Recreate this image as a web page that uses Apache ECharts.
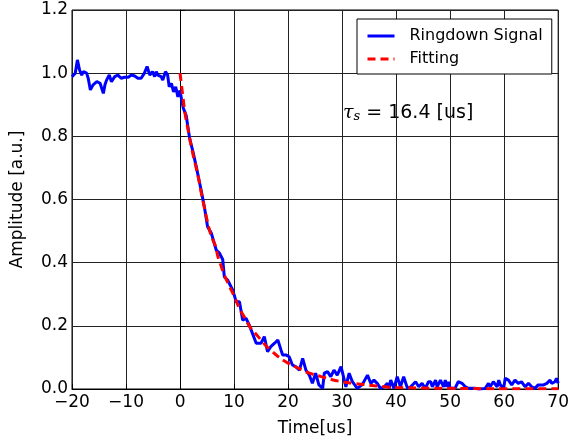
<!DOCTYPE html>
<html>
<head>
<meta charset="utf-8">
<script src="https://cdn.jsdelivr.net/npm/echarts@6/dist/echarts.min.js"></script>
<style>
  html, body { margin: 0; padding: 0; background: #fff; }
  #chart { width: 572px; height: 442px; }
</style>
</head>
<body>
<div id="chart"></div>
<script>
// measured ringdown signal [us] / [a.u.]
const signalTime = [
  -20.0, -19.4, -19.0, -18.6, -18.2, -17.9, -17.3, -17.0, -16.6, -16.1,
  -15.4, -14.8, -14.2, -13.9, -13.6, -13.1, -12.7, -12.1, -11.8, -11.5,
  -10.9, -10.3, -9.6, -9.0, -8.4, -7.8, -7.2, -6.6, -6.1, -5.6,
  -5.1, -4.7, -4.4, -4.1, -3.8, -3.5, -3.2, -2.7, -2.3, -2.0,
  -1.6, -1.2, -0.8, -0.4, 0.0, 0.3, 0.6, 1.15, 1.77, 2.4,
  3.0, 3.9, 4.5, 5.1, 5.8, 6.1, 6.7, 7.3, 7.6, 7.9,
  8.2, 8.8, 9.15, 9.76, 10.4, 11.0, 11.6, 12.2, 12.8, 14.1,
  15.0, 15.6, 16.2, 16.8, 17.5, 18.1, 18.7, 19.0, 19.6, 20.2,
  20.8, 21.4, 22.1, 22.7, 23.3, 23.9, 24.5, 25.1, 25.7, 26.4,
  26.7, 27.3, 27.9, 28.5, 29.1, 29.8, 30.1, 30.7, 31.3, 31.9,
  32.8, 33.7, 34.7, 35.3, 35.9, 36.5, 37.1, 37.8, 38.4, 38.7,
  39.0, 39.6, 40.2, 40.8, 41.4, 42.1, 42.7, 43.6, 44.2, 44.8,
  45.4, 46.0, 46.4, 46.7, 47.3, 47.6, 48.2, 48.8, 49.1, 49.4,
  49.7, 50.0, 50.9, 51.5, 52.2, 52.8, 53.4, 54.7, 55.3, 56.5,
  57.1, 57.4, 58.0, 58.7, 59.0, 59.3, 59.9, 60.2, 60.8, 61.4,
  62.0, 62.6, 63.2, 63.9, 64.5, 65.1, 65.7, 66.3, 67.3, 67.9,
  68.5, 68.8, 69.4, 69.7, 70.0
]
const signalAmp = [
  0.989, 1.0, 1.042, 1.01, 0.994, 1.005, 1.0, 0.984, 0.947, 0.963,
  0.973, 0.968, 0.936, 0.963, 0.978, 0.994, 0.973, 0.989, 0.984, 0.994,
  0.984, 0.987, 0.987, 0.994, 0.991, 0.984, 0.984, 1.0, 1.021, 0.994,
  1.005, 0.989, 1.005, 0.994, 1.0, 0.989, 0.978, 1.005, 0.994, 0.957,
  0.968, 0.941, 0.957, 0.925, 0.945, 0.915, 0.89, 0.865, 0.794, 0.751,
  0.704, 0.63, 0.577, 0.514, 0.493, 0.498, 0.44, 0.43, 0.435, 0.41,
  0.355, 0.345, 0.34, 0.313, 0.276, 0.276, 0.218, 0.224, 0.203, 0.145,
  0.145, 0.166, 0.118, 0.134, 0.145, 0.155, 0.123, 0.108, 0.108, 0.102,
  0.076, 0.071, 0.06, 0.097, 0.06, 0.045, 0.018, 0.05, 0.013, 0.002,
  0.05, 0.055, 0.039, 0.06, 0.044, 0.071, 0.05, 0.007, 0.05, 0.023,
  0.002, 0.013, 0.044, 0.018, 0.028, 0.018, 0.002, 0.007, 0.018, 0.002,
  0.028, 0.002, 0.039, 0.007, 0.039, 0.002, 0.007, 0.023, 0.007, 0.018,
  0.002, 0.023, 0.023, 0.007, 0.028, 0.007, 0.028, 0.007, 0.028, 0.007,
  0.023, 0.002, 0.002, 0.023, 0.018, 0.007, 0.002, 0.002, -0.001, 0.002,
  0.018, 0.007, 0.023, 0.007, 0.028, 0.013, 0.002, 0.034, 0.028, 0.013,
  0.028, 0.018, 0.023, 0.007, 0.018, 0.007, 0.002, 0.013, 0.013, 0.018,
  0.028, 0.018, 0.023, 0.034, 0.018
]

// fitted decay curve
const fitTime = [
  0, 0.5, 1, 1.5, 2, 2.5, 3, 3.5, 4, 4.5,
  5, 5.5, 6, 6.5, 7, 7.5, 8, 9, 10, 11,
  12, 13, 14, 15, 16, 17, 18, 19, 20, 22,
  24, 26, 28, 30, 32, 34, 36, 38, 40, 45,
  50, 60, 70
]
const fitAmp = [
  1.0, 0.93, 0.865, 0.82, 0.775, 0.735, 0.70, 0.66, 0.615, 0.575,
  0.535, 0.50, 0.475, 0.455, 0.42, 0.395, 0.37, 0.33, 0.295, 0.255,
  0.225, 0.195, 0.175, 0.155, 0.135, 0.12, 0.105, 0.092, 0.082, 0.065,
  0.05, 0.04, 0.03, 0.023, 0.018, 0.014, 0.01, 0.007, 0.005, 0.003,
  0.002, 0.001, 0.001
]

const xTicks = [-20, -10, 0, 10, 20, 30, 40, 50, 60, 70]
const yTicks = [0.0, 0.2, 0.4, 0.6, 0.8, 1.0, 1.2]
const tauText = '16.4 [us]'

const FONT = 'DejaVu Sans'

const chart = echarts.init(document.getElementById('chart'), null, {renderer: 'canvas'})

const option = {
  animation: false,
  backgroundColor: '#fff',
  textStyle: {fontFamily: FONT, color: '#000'},
  grid: {
    left: 72, right: 12, top: 10, bottom: 53,
    show: true, borderColor: '#000', borderWidth: 1, backgroundColor: 'transparent'
  },
  legend: {
    orient: 'vertical',
    left: 357, top: 19,
    data: ['Ringdown Signal', 'Fitting'],
    backgroundColor: '#fff',
    borderColor: '#000',
    borderWidth: 1,
    borderRadius: 0,
    padding: [9, 9, 7, 9],
    itemGap: 7,
    itemWidth: 27,
    itemHeight: 16,
    itemStyle: {opacity: 0},
    lineStyle: {width: 3},
    textStyle: {fontFamily: FONT, fontSize: 16, color: '#000', padding: [0, 0, 0, 10]}
  },
  xAxis: {
    type: 'value',
    min: xTicks[0], max: xTicks[xTicks.length - 1], interval: 10,
    name: 'Time[us]', nameLocation: 'middle', nameGap: 31,
    nameTextStyle: {fontFamily: FONT, fontSize: 17, color: '#000'},
    axisLine: {show: true, lineStyle: {color: '#000', width: 1}},
    axisTick: {show: true, inside: true, length: 5, lineStyle: {color: '#000'}},
    axisLabel: {
      fontFamily: FONT, fontSize: 17, color: '#000', margin: 5,
      formatter: v => String(v).replace('-', '\u2212')
    },
    splitLine: {show: true, lineStyle: {color: '#222', width: 1}}
  },
  yAxis: {
    type: 'value',
    min: yTicks[0], max: yTicks[yTicks.length - 1], interval: 0.2,
    name: 'Amplitude [a.u.]', nameLocation: 'middle', nameGap: 46,
    nameTextStyle: {fontFamily: FONT, fontSize: 17, color: '#000'},
    axisLine: {show: true, lineStyle: {color: '#000', width: 1}},
    axisTick: {show: true, inside: true, length: 5, lineStyle: {color: '#000'}},
    axisLabel: {
      fontFamily: FONT, fontSize: 17, color: '#000', margin: 4,
      formatter: v => v.toFixed(1)
    },
    splitLine: {show: true, lineStyle: {color: '#222', width: 1}}
  },
  graphic: [
    {
      type: 'text',
      left: 343, top: 104,
      style: {
        text: '{tau|\u03c4}{sub|s}{txt| = ' + tauText + '}',
        rich: {
          tau: {fontFamily: 'DejaVu Serif', fontStyle: 'italic', fontSize: 19, fill: '#000'},
          sub: {fontFamily: 'DejaVu Serif', fontStyle: 'italic', fontSize: 13, fill: '#000', verticalAlign: 'bottom', padding: [7, 0, 0, 0]},
          txt: {fontFamily: FONT, fontSize: 19, fill: '#000'}
        }
      }
    }
  ],
  series: [
    {
      name: 'Ringdown Signal',
      type: 'line',
      data: signalTime.map((t, i) => [t, signalAmp[i]]),
      symbol: 'none',
      smooth: false,
      clip: true,
      lineStyle: {color: '#0000ff', width: 3},
      itemStyle: {color: '#0000ff'}
    },
    {
      name: 'Fitting',
      type: 'line',
      data: fitTime.map((t, i) => [t, fitAmp[i]]),
      symbol: 'none',
      smooth: true,
      clip: true,
      lineStyle: {color: '#ff0000', width: 3, type: [8, 5]},
      itemStyle: {color: '#ff0000'}
    }
  ]
}

chart.setOption(option)
</script>
</body>
</html>
